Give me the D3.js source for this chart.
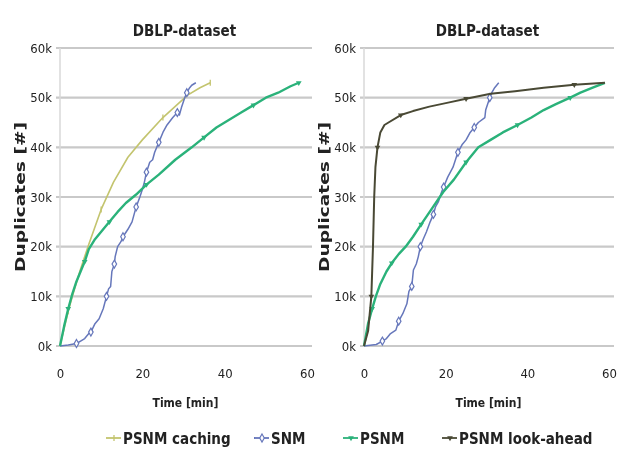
<!DOCTYPE html>
<html>
<head>
<meta charset="utf-8">
<script src="https://cdn.jsdelivr.net/npm/d3@7"></script>
<style>
  body { margin: 0; background: #fff; }
  svg text { font-family: "DejaVu Sans Condensed", "DejaVu Sans", sans-serif; }
</style>
</head>
<body>
<div id="chart"></div>
<script>
// values: [time in min, duplicates in k]
const chartTitle = "DBLP-dataset";
const xTitle = "Time [min]";
const yTitle = "Duplicates [#]";
const timeTicks = [0, 20, 40, 60];
const dupTicks = [0, 10, 20, 30, 40, 50, 60];

const leftCaching = [[0,0],[1,3.5],[2,7],[3,10],[5,15.5],[7,20.5],[10,27.5],[13,33],[16.5,38],[20,41.5],[25,46],[29,49],[31,50.5],[34,52],[36.5,53]];
const leftSNM = [[0,0],[2,0.2],[4,0.5],[5,1],[6,1.5],[7,2.5],[7.5,2.8],[8.5,4.5],[9.5,5.5],[10.5,7.5],[11.3,10],[11.8,11.5],[12.3,12],[12.6,15],[13.2,16.5],[13.4,18],[14,20],[14.8,21],[15.3,22],[16.5,23.5],[17.5,25],[18,26.5],[18.5,28],[19.4,30],[20,31.5],[20.5,33],[21,35],[21.8,37],[22.5,37.5],[23,39],[24,41],[25,43],[26,44.5],[27.4,46],[28.5,47],[29,46.5],[29.5,48],[30.3,50],[30.8,51],[31.5,52],[32,52.5],[33,53]];
const leftPSNM = [[0,0],[1,4],[2,7.5],[3,10.5],[4,13],[5,15],[6,17],[7,19.5],[8.5,21.5],[10,23],[12,25],[14,27],[16,28.8],[18.5,30.5],[21,32.5],[24,34.5],[28,37.5],[32,40],[35,42],[38,44],[41,45.5],[44,47],[47,48.5],[50,50],[53,51],[56,52.3],[58,53]];

const rightSNM = [[0,0],[3,0.3],[4.5,1],[5.5,1.5],[6.5,2.5],[7.8,3.2],[8.5,5],[9.5,6.5],[10.5,8.5],[11,11],[11.7,12],[12.1,15.3],[12.8,16.5],[13.3,18],[13.8,20],[14.5,21.5],[15.3,23],[16.2,25],[17,26.5],[17.5,28],[18.2,29],[19,31],[19.5,32],[20.5,34],[21.8,36],[22.2,37],[23,39],[24,40.5],[25,41.5],[26,43],[27,44],[28,45],[29.6,46],[29.8,47.5],[30.8,50],[31.3,51],[32,52],[33,53]];
const rightPSNM = [[0,0],[1,4.5],[2,7.5],[2.9,10],[4,12.5],[5.5,15],[6.8,16.7],[8.5,18.5],[10.2,20],[12,22],[14,24.5],[16.5,27.5],[19.4,31],[22,33.5],[25,37],[28,40],[31,41.5],[34,43],[37.6,44.5],[41,46],[44,47.5],[47,48.7],[50.5,50],[53,51],[56,52],[59,53]];
const rightLookAhead = [[0,0],[1,3],[1.8,10],[2.2,20],[2.5,30],[2.8,36],[3.3,40],[4,43],[5,44.5],[6,45],[9,46.5],[12,47.3],[16,48.2],[20.6,49],[25,49.8],[31,50.8],[37,51.3],[44,52],[51.5,52.6],[59,53]];

const legendNames = ["PSNM caching", "SNM", "PSNM", "PSNM look-ahead"];

const width = 617;
const height = 459;

const styles = {
  "PSNM caching":    { color: "#c3c46e", w: 1.6, marker: "dash" },
  "SNM":             { color: "#6677bb", w: 1.5, marker: "diamond" },
  "PSNM":            { color: "#2bb27a", w: 2.4, marker: "tri" },
  "PSNM look-ahead": { color: "#4a4934", w: 2.0, marker: "tri" }
};

const svg = d3.select("#chart").append("svg")
  .attr("width", width)
  .attr("height", height);

svg.append("defs").append("filter").attr("id", "soft")
  .attr("filterUnits", "userSpaceOnUse")
  .attr("x", 0).attr("y", 0).attr("width", width).attr("height", height)
  .append("feGaussianBlur").attr("stdDeviation", 0.7);

const root = svg.append("g").attr("filter", "url(#soft)");
root.append("rect").attr("width", width).attr("height", height).attr("fill", "#fff");

function marker(g, kind, x, y, color) {
  if (kind === "diamond") {
    g.append("path").attr("d", d3.symbol(d3.symbolDiamond, 18)())
      .attr("transform", "translate(" + x + "," + y + ")")
      .attr("fill", "#fff").attr("stroke", color).attr("stroke-width", 1.2);
  } else if (kind === "tri") {
    g.append("path").attr("d", d3.symbol(d3.symbolTriangle, 14)())
      .attr("transform", "translate(" + x + "," + y + ") rotate(180)")
      .attr("fill", color);
  } else {
    g.append("line").attr("x1", x).attr("x2", x).attr("y1", y - 3).attr("y2", y + 3)
      .attr("stroke", color).attr("stroke-width", 1.3);
  }
}

function drawPanel(x0, x1, series) {
  const xScale = d3.scaleLinear().domain([0, 60]).range([x0, x1]);
  const yScale = d3.scaleLinear().domain([0, 60]).range([346, 48]);
  const g = root.append("g");

  // grid
  g.selectAll(".grid").data(dupTicks).enter().append("line")
    .attr("x1", x0 - 4).attr("x2", x1 + 5)
    .attr("y1", d => yScale(d)).attr("y2", d => yScale(d))
    .attr("stroke", "#c9c9c9").attr("stroke-width", 2.2);
  g.append("line").attr("x1", x0).attr("x2", x0)
    .attr("y1", yScale(60)).attr("y2", yScale(0))
    .attr("stroke", "#d8d8d8").attr("stroke-width", 1.5);

  // axes
  const yAxis = d3.axisLeft(yScale).tickValues(dupTicks).tickFormat(d => d + "k").tickSize(0).tickPadding(8);
  const ya = g.append("g").attr("transform", "translate(" + x0 + ",0)").call(yAxis);
  const xAxis = d3.axisBottom(xScale).tickValues(timeTicks).tickSize(0).tickPadding(23);
  const xa = g.append("g").attr("transform", "translate(0," + yScale(0) + ")").call(xAxis);
  [ya, xa].forEach(a => {
    a.select(".domain").remove();
    a.selectAll("text").attr("font-size", 13).attr("fill", "#222")
      .style("font-family", "'DejaVu Sans Condensed', sans-serif");
  });

  const line = d3.line().x(d => xScale(d[0])).y(d => yScale(d[1]));
  series.forEach(s => {
    const st = styles[s.name];
    g.append("path").datum(s.data)
      .attr("d", line).attr("fill", "none")
      .attr("stroke", st.color).attr("stroke-width", st.w)
      .attr("stroke-linejoin", "round");
    s.data.forEach((d, i) => {
      if (i > 0 && i % 4 === 2) marker(g, st.marker, xScale(d[0]), yScale(d[1]), st.color);
    });
  });

  const cx = (x0 + x1) / 2 + 1;
  g.append("text").attr("x", cx).attr("y", 36).attr("text-anchor", "middle")
    .attr("font-size", 15).attr("font-weight", "bold").attr("fill", "#222").text(chartTitle);
  g.append("text").attr("x", cx + 1).attr("y", 407).attr("text-anchor", "middle")
    .attr("font-size", 12).attr("font-weight", "bold").attr("fill", "#222").text(xTitle);
  g.append("text").attr("transform", "translate(" + (x0 - 35) + ",197) rotate(-90)")
    .attr("text-anchor", "middle")
    .attr("textLength", 150).attr("lengthAdjust", "spacingAndGlyphs")
    .attr("font-size", 14).attr("font-weight", "bold").attr("fill", "#222").text(yTitle);
}

drawPanel(60, 307, [
  { name: "PSNM caching", data: leftCaching },
  { name: "SNM", data: leftSNM },
  { name: "PSNM", data: leftPSNM }
]);
drawPanel(364, 609, [
  { name: "SNM", data: rightSNM },
  { name: "PSNM", data: rightPSNM },
  { name: "PSNM look-ahead", data: rightLookAhead }
]);

// legend
const legendX = [106, 254, 343, 442];
const lg = root.append("g");
legendNames.forEach((name, i) => {
  const st = styles[name];
  const x = legendX[i], y = 438;
  lg.append("line").attr("x1", x).attr("x2", x + 15).attr("y1", y).attr("y2", y)
    .attr("stroke", st.color).attr("stroke-width", 1.8);
  marker(lg, st.marker, x + 8, y, st.color);
  lg.append("text").attr("x", x + 17).attr("y", y + 6)
    .attr("font-size", 15).attr("font-weight", "bold").attr("fill", "#222").text(name);
});
</script>
</body>
</html>
